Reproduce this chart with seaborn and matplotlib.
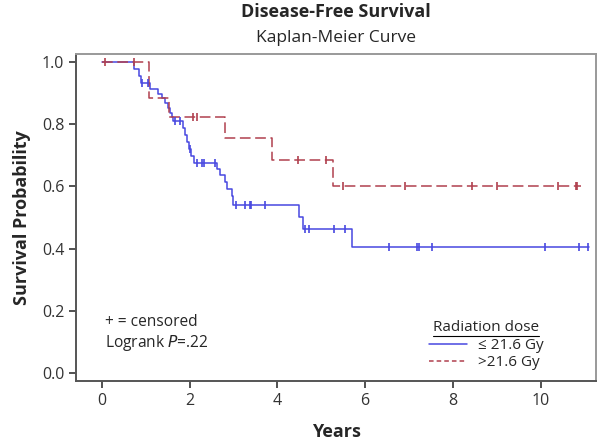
import numpy as np
import pandas as pd
import seaborn as sns
import matplotlib.pyplot as plt
from matplotlib.lines import Line2D

sns.set_theme(style="ticks")
plt.rcParams['font.family'] = ['Open Sans', 'DejaVu Sans']

# Kaplan-Meier step data
low_times = [0, 0.74, 0.84, 0.90, 1.10, 1.29, 1.37, 1.44, 1.50, 1.56, 1.59, 1.63,
             1.86, 1.90, 1.94, 1.98, 2.03, 2.10, 2.62, 2.69, 2.81, 2.85, 2.96, 3.00,
             4.50, 4.59, 5.70]
low_surv = [1.0, 0.976, 0.955, 0.933, 0.912, 0.898, 0.885, 0.869, 0.853, 0.837, 0.823, 0.809,
            0.787, 0.765, 0.743, 0.720, 0.698, 0.674, 0.656, 0.635, 0.613, 0.592, 0.568, 0.541,
            0.501, 0.463, 0.405]
low_end = 11.1
low_censored = [0.92, 1.05, 1.67, 1.78, 2.01, 2.16, 2.28, 2.32, 2.58, 3.05, 3.26, 3.38,
                3.41, 3.72, 4.63, 4.72, 5.29, 5.54, 6.55, 7.19, 7.22, 7.52, 10.10,
                10.88, 11.08]

high_times = [0, 1.08, 1.52, 2.80, 3.88, 5.26]
high_surv = [1.0, 0.883, 0.823, 0.755, 0.686, 0.602]
high_end = 10.92
high_censored = [0.08, 0.74, 2.08, 2.16, 4.46, 5.11, 5.49, 6.91, 8.43, 9.00,
                 10.39, 10.80, 10.84]

groups = ["≤ 21.6 Gy", ">21.6 Gy"]
colors = {"≤ 21.6 Gy": "#4848e0", ">21.6 Gy": "#b0404e"}


def step_frame(times, surv, end, name):
    return pd.DataFrame({"Years": list(times) + [end],
                         "Survival": list(surv) + [surv[-1]],
                         "Group": name})


def censor_frame(times, surv, cens, name):
    idx = np.searchsorted(times, cens, side="right") - 1
    return pd.DataFrame({"Years": cens, "Survival": np.array(surv)[idx], "Group": name})


curves = pd.concat([step_frame(low_times, low_surv, low_end, groups[0]),
                    step_frame(high_times, high_surv, high_end, groups[1])])
marks = pd.concat([censor_frame(low_times, low_surv, low_censored, groups[0]),
                   censor_frame(high_times, high_surv, high_censored, groups[1])])

fig = plt.figure(figsize=(6, 4.43), dpi=100)
ax = fig.add_axes([0.127, 0.140, 0.866, 0.738])

sns.lineplot(data=curves, x="Years", y="Survival", hue="Group", style="Group",
             palette=colors, dashes={groups[0]: "", groups[1]: (7, 3)},
             drawstyle="steps-post", estimator=None, sort=False, linewidth=1.1,
             ax=ax, legend=False)
for g in groups:
    sub = marks[marks["Group"] == g]
    sns.scatterplot(data=sub, x="Years", y="Survival", marker="|", s=30,
                    color=colors[g], linewidth=1.2, ax=ax, legend=False, zorder=3)

ax.set_xlim(-0.585, 11.26)
ax.set_ylim(-0.025, 1.025)
ax.set_xticks([0, 2, 4, 6, 8, 10])
ax.set_yticks([0.0, 0.2, 0.4, 0.6, 0.8, 1.0])
ax.set_yticklabels(["0.0", "0.2", "0.4", "0.6", "0.8", "1.0"])
ax.tick_params(labelsize=11.5, colors="#333333", length=5, width=1.2)
for side in ["left", "bottom"]:
    ax.spines[side].set_color("#555555")
    ax.spines[side].set_linewidth(1.4)
for side in ["top", "right"]:
    ax.spines[side].set_visible(True)
    ax.spines[side].set_color("#999999")
    ax.spines[side].set_linewidth(1.4)

ax.set_xlabel("Years", fontsize=13, fontweight="bold", labelpad=10)
ax.set_ylabel("Survival Probability", fontsize=13, fontweight="bold", labelpad=8)

fig.text(0.56, 0.972, "Disease-Free Survival", ha="center", va="center",
         fontsize=13, fontweight="bold")
fig.text(0.56, 0.914, "Kaplan-Meier Curve", ha="center", va="center", fontsize=12.5)

ax.text(0.08, 0.165, "+ = censored", fontsize=11.2, va="center")
ax.text(0.08, 0.098, "Logrank $\\it{P}$=.22", fontsize=11.2, va="center")

handles = [Line2D([0], [0], color=colors[groups[0]], lw=1.1),
           Line2D([0], [0], color=colors[groups[1]], lw=1.1, dashes=(3, 2))]
leg = ax.legend(handles, groups, title="Radiation dose", loc="lower right",
                bbox_to_anchor=(0.92, 0.0), frameon=False, fontsize=11,
                title_fontsize=11, handlelength=2.5, handletextpad=0.7,
                labelspacing=0.15, borderaxespad=0.3)
leg._legend_box.sep = 2

fig.canvas.draw()
bb = leg.get_title().get_window_extent()
x0, x1 = bb.x0 / fig.bbox.width, bb.x1 / fig.bbox.width
y0 = (bb.y0 - 1) / fig.bbox.height
fig.add_artist(Line2D([x0, x1], [y0, y0], color="black", lw=0.8,
                      transform=fig.transFigure))

fig.savefig("out.png", dpi=100)
